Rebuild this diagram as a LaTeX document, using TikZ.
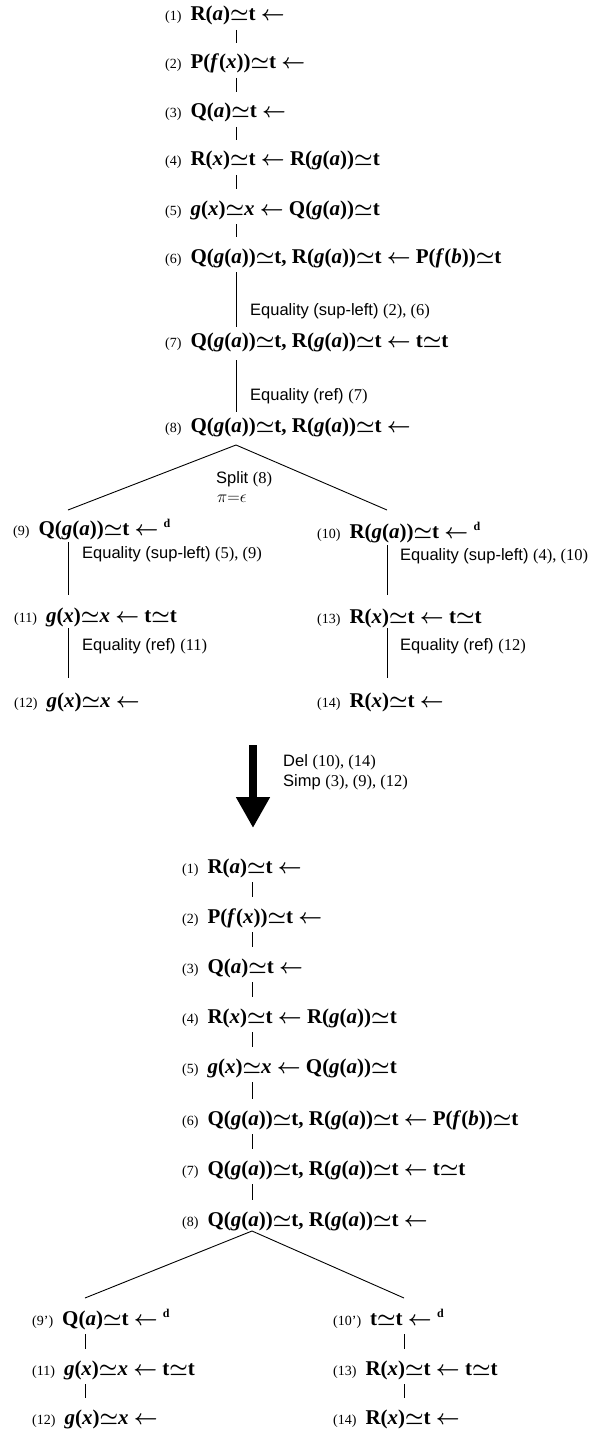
\documentclass[tikz,border=0pt]{standalone}
\usepackage{fontspec}
\setmainfont{Liberation Serif}
\setsansfont{Liberation Sans}
\usetikzlibrary{calc,arrows.meta}
\newcommand{\clab}[1]{{\mdseries\upshape\fontsize{14}{15}\selectfont(#1)}\hspace{9pt}}
\newcommand{\cvar}[1]{\textit{#1}}
\newcommand{\csim}{$\simeq$}
\newcommand{\carr}{\ $\leftarrow$}
\newcommand{\cdsup}{\ \raisebox{8pt}{\fontsize{12}{12}\selectfont d}}
\newcommand{\cser}[1]{{\rmfamily #1}}
\tikzset{
  row/.style={anchor=base west, inner sep=0pt, font=\fontsize{21}{23}\selectfont\bfseries\boldmath},
  rule/.style={anchor=base west, inner sep=0pt, font=\fontsize{16.5}{18}\selectfont\sffamily},
  conn/.style={line width=0.9pt},
}
\begin{document}
\begin{tikzpicture}[x=1pt,y=-1pt]
\useasboundingbox (0,0) rectangle (593,1434);
% ---------- top derivation ----------
\coordinate (sp) at (236,0);
\coordinate (lsp) at (68,0);
\coordinate (rsp) at (387,0);
\node[row] (t1) at (165,21) {\clab{1}R(\cvar{a})\csim t\carr};
\node[row] (t2) at (165,69) {\clab{2}P(\cvar{f}(\cvar{x}))\csim t\carr};
\node[row] (t3) at (165,118) {\clab{3}Q(\cvar{a})\csim t\carr};
\node[row] (t4) at (165,166) {\clab{4}R(\cvar{x})\csim t\carr{} R(\cvar{g}(\cvar{a}))\csim t};
\node[row] (t5) at (165,215) {\clab{5}\cvar{g}(\cvar{x})\csim\cvar{x}\carr{} Q(\cvar{g}(\cvar{a}))\csim t};
\node[row] (t6) at (165,263) {\clab{6}Q(\cvar{g}(\cvar{a}))\csim t, R(\cvar{g}(\cvar{a}))\csim t\carr{} P(\cvar{f}(\cvar{b}))\csim t};
\node[row] (t7) at (165,347) {\clab{7}Q(\cvar{g}(\cvar{a}))\csim t, R(\cvar{g}(\cvar{a}))\csim t\carr{} t\csim t};
\node[row] (t8) at (165,432) {\clab{8}Q(\cvar{g}(\cvar{a}))\csim t, R(\cvar{g}(\cvar{a}))\csim t\carr};
\node[row] (t9) at (13,535) {\clab{9}Q(\cvar{g}(\cvar{a}))\csim t\carr\cdsup};
\node[row] (t10) at (317,538) {\clab{10}R(\cvar{g}(\cvar{a}))\csim t\carr\cdsup};
\node[row] (t11) at (14,622) {\clab{11}\cvar{g}(\cvar{x})\csim\cvar{x}\carr{} t\csim t};
\node[row] (t12) at (14,707) {\clab{12}\cvar{g}(\cvar{x})\csim\cvar{x}\carr};
\node[row] (t13) at (317,623) {\clab{13}R(\cvar{x})\csim t\carr{} t\csim t};
\node[row] (t14) at (317,707) {\clab{14}R(\cvar{x})\csim t\carr};
\foreach \a/\b in {t1/t2,t2/t3,t3/t4,t4/t5,t5/t6}
  \draw[conn] ($(sp |- \a.base)+(0,9)$) -- ($(sp |- \b.base)+(0,-26)$);
\draw[conn] ($(sp |- t6.base)+(0,9)$) -- ($(sp |- t7.base)+(0,-20)$);
\draw[conn] ($(sp |- t7.base)+(0,13)$) -- ($(sp |- t8.base)+(0,-20)$);
\draw[conn] ($(lsp |- t9.base)+(0,-25)$) -- ($(sp |- t8.base)+(0,13)$) -- ($(rsp |- t10.base)+(0,-28)$);
\draw[conn] ($(lsp |- t9.base)+(0,7)$) -- ($(lsp |- t11.base)+(0,-27)$);
\draw[conn] ($(lsp |- t11.base)+(0,6)$) -- ($(lsp |- t12.base)+(0,-29)$);
\draw[conn] ($(rsp |- t10.base)+(0,7)$) -- ($(rsp |- t13.base)+(0,-28)$);
\draw[conn] ($(rsp |- t13.base)+(0,5)$) -- ($(rsp |- t14.base)+(0,-29)$);
\node[rule] (r1) at (250,315) {Equality (sup-left) \cser{(2), (6)}};
\node[rule] (r2) at (250,400) {Equality (ref) \cser{(7)}};
\node[rule] (r3) at (216,483) {Split \cser{(8)}};
\node[anchor=base west, inner sep=0pt, font=\fontsize{16}{17}\selectfont] (r3b) at (217,502) {$\pi{=}\epsilon$};
\node[rule] (r4) at (82,558) {Equality (sup-left) \cser{(5), (9)}};
\node[rule] (r5) at (82,650) {Equality (ref) \cser{(11)}};
\node[rule] (r6) at (400,560) {Equality (sup-left) \cser{(4), (10)}};
\node[rule] (r7) at (400,650) {Equality (ref) \cser{(12)}};
% ---------- big arrow ----------
\coordinate (atop) at (253,745);
\coordinate (atip) at (253,828);
\draw[line width=8pt, -{Triangle[width=32pt,length=31pt]}] (atop) -- (atip);
\node[rule] (d1) at (283,766) {Del \cser{(10), (14)}};
\node[rule] (d2) at (283,786) {Simp \cser{(3), (9), (12)}};
% ---------- bottom derivation ----------
\coordinate (bsp) at (252,0);
\coordinate (blsp) at (85,0);
\coordinate (brsp) at (404,0);
\node[row] (b1) at (182,873) {\clab{1}R(\cvar{a})\csim t\carr};
\node[row] (b2) at (182,923) {\clab{2}P(\cvar{f}(\cvar{x}))\csim t\carr};
\node[row] (b3) at (182,973) {\clab{3}Q(\cvar{a})\csim t\carr};
\node[row] (b4) at (182,1023) {\clab{4}R(\cvar{x})\csim t\carr{} R(\cvar{g}(\cvar{a}))\csim t};
\node[row] (b5) at (182,1073) {\clab{5}\cvar{g}(\cvar{x})\csim\cvar{x}\carr{} Q(\cvar{g}(\cvar{a}))\csim t};
\node[row] (b6) at (182,1125) {\clab{6}Q(\cvar{g}(\cvar{a}))\csim t, R(\cvar{g}(\cvar{a}))\csim t\carr{} P(\cvar{f}(\cvar{b}))\csim t};
\node[row] (b7) at (182,1175) {\clab{7}Q(\cvar{g}(\cvar{a}))\csim t, R(\cvar{g}(\cvar{a}))\csim t\carr{} t\csim t};
\node[row] (b8) at (182,1226) {\clab{8}Q(\cvar{g}(\cvar{a}))\csim t, R(\cvar{g}(\cvar{a}))\csim t\carr};
\node[row] (b9) at (32,1325) {\clab{9'}Q(\cvar{a})\csim t\carr\cdsup};
\node[row] (b11) at (32,1375) {\clab{11}\cvar{g}(\cvar{x})\csim\cvar{x}\carr{} t\csim t};
\node[row] (b12) at (32,1424) {\clab{12}\cvar{g}(\cvar{x})\csim\cvar{x}\carr};
\node[row] (b10) at (333,1325) {\clab{10'}t\csim t\carr\cdsup};
\node[row] (b13) at (333,1375) {\clab{13}R(\cvar{x})\csim t\carr{} t\csim t};
\node[row] (b14) at (333,1424) {\clab{14}R(\cvar{x})\csim t\carr};
\foreach \a/\b in {b1/b2,b2/b3,b3/b4,b4/b5,b5/b6,b6/b7,b7/b8}
  \draw[conn] ($(bsp |- \a.base)+(0,9)$) -- ($(bsp |- \b.base)+(0,-26)$);
\draw[conn] ($(blsp |- b9.base)+(0,-27)$) -- ($(bsp |- b8.base)+(0,5)$) -- ($(brsp |- b10.base)+(0,-27)$);
\foreach \a/\b in {b9/b11,b11/b12}
  \draw[conn] ($(blsp |- \a.base)+(0,9)$) -- ($(blsp |- \b.base)+(0,-26)$);
\foreach \a/\b in {b10/b13,b13/b14}
  \draw[conn] ($(brsp |- \a.base)+(0,9)$) -- ($(brsp |- \b.base)+(0,-26)$);
\end{tikzpicture}
\end{document}
